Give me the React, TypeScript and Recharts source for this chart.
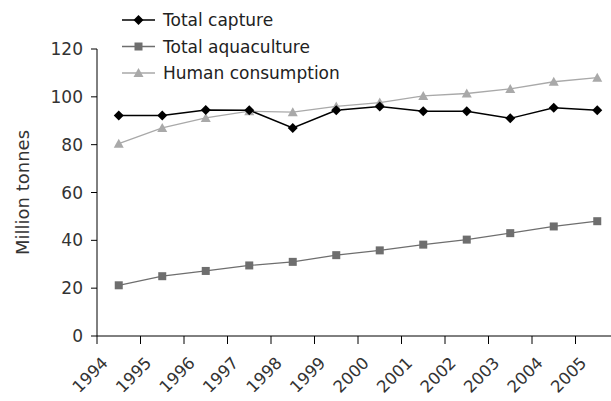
import React from "react";
import { LineChart, Line, XAxis, YAxis } from "recharts";

const years = [1994, 1995, 1996, 1997, 1998, 1999, 2000, 2001, 2002, 2003, 2004, 2005];
const totalCapture = [92.2, 92.2, 94.5, 94.4, 87, 94.4, 96, 94, 94, 91, 95.4, 94.4];
const totalAquaculture = [21.2, 25, 27.2, 29.5, 31, 33.8, 35.8, 38.2, 40.3, 43, 45.8, 48];
const humanConsumption = [80.4, 87, 91.2, 94, 93.6, 96, 97.6, 100.4, 101.4, 103.3, 106.3, 108];
const yTicks = [0, 20, 40, 60, 80, 100, 120];

// points sit in the middle of each year's band
const data = years.map((year, i) => ({
  x: year + 0.5,
  capture: totalCapture[i],
  aquaculture: totalAquaculture[i],
  human: humanConsumption[i],
}));

const colors = {
  capture: "#000000",
  aquaculture: "#6e6e6e",
  human: "#a9a9a9",
};

const font = "'DejaVu Sans', Verdana, sans-serif";

const diamond = (color: string) => ({ cx, cy, index }: any) => (
  <path key={index} d={`M${cx},${cy - 5}L${cx + 5},${cy}L${cx},${cy + 5}L${cx - 5},${cy}Z`} fill={color} />
);
const square = (color: string) => ({ cx, cy, index }: any) => (
  <rect key={index} x={cx - 4} y={cy - 4} width={8} height={8} fill={color} />
);
const triangle = (color: string) => ({ cx, cy, index }: any) => (
  <path key={index} d={`M${cx},${cy - 5}L${cx + 5},${cy + 4}L${cx - 5},${cy + 4}Z`} fill={color} />
);

const legendItems = [
  { label: "Total capture", color: colors.capture, marker: diamond(colors.capture) },
  { label: "Total aquaculture", color: colors.aquaculture, marker: square(colors.aquaculture) },
  { label: "Human consumption", color: colors.human, marker: triangle(colors.human) },
];

const ChartLegend = () => (
  <svg width={260} height={90} style={{ position: "absolute", left: 122, top: 8 }}>
    {legendItems.map(({ label, color, marker }, i) => {
      const y = 12 + i * 26.5;
      return (
        <g key={label}>
          <line x1={0} x2={33} y1={y} y2={y} stroke={color} strokeWidth={1.5} />
          {marker({ cx: 16.5, cy: y, index: i })}
          <text x={41} y={y + 6} fontSize={17} fontFamily={font} fill="#222">
            {label}
          </text>
        </g>
      );
    })}
  </svg>
);

const XTick = ({ x, y, payload }: any) => {
  const tx = x + 12;
  const ty = y + 18;
  return (
    <text
      x={tx}
      y={ty}
      transform={`rotate(-45 ${tx} ${ty})`}
      textAnchor="end"
      fontSize={16.5}
      fontFamily={font}
      fill="#333"
    >
      {payload.value}
    </text>
  );
};

export default function App() {
  return (
    <div
      style={{
        position: "absolute",
        left: 0,
        top: 0,
        width: 611,
        height: 401,
        overflow: "hidden",
        background: "#fff",
      }}
    >
      <LineChart width={619} height={401} data={data} margin={{ top: 49, right: 0, left: 0, bottom: 0 }}>
        <XAxis
          dataKey="x"
          type="number"
          domain={[1994, 2006]}
          ticks={years}
          interval={0}
          height={65}
          tickSize={8}
          tickMargin={2}
          axisLine={{ stroke: "#000" }}
          tickLine={{ stroke: "#000" }}
          tick={<XTick />}
        />
        <YAxis
          domain={[0, 120]}
          ticks={yTicks}
          width={97}
          tickSize={6}
          tickMargin={8}
          axisLine={{ stroke: "#000" }}
          tickLine={{ stroke: "#000" }}
          tick={{ fontSize: 17, fontFamily: font, fill: "#333" }}
          label={{
            value: "Million tonnes",
            angle: -90,
            position: "insideLeft",
            offset: 23,
            style: { textAnchor: "middle", fontSize: 18, fontFamily: font, fill: "#333" },
          }}
        />
        <Line
          dataKey="human"
          stroke={colors.human}
          strokeWidth={1.3}
          dot={triangle(colors.human)}
          activeDot={false}
          isAnimationActive={false}
        />
        <Line
          dataKey="aquaculture"
          stroke={colors.aquaculture}
          strokeWidth={1.3}
          dot={square(colors.aquaculture)}
          activeDot={false}
          isAnimationActive={false}
        />
        <Line
          dataKey="capture"
          stroke={colors.capture}
          strokeWidth={1.5}
          dot={diamond(colors.capture)}
          activeDot={false}
          isAnimationActive={false}
        />
      </LineChart>
      <ChartLegend />
    </div>
  );
}
